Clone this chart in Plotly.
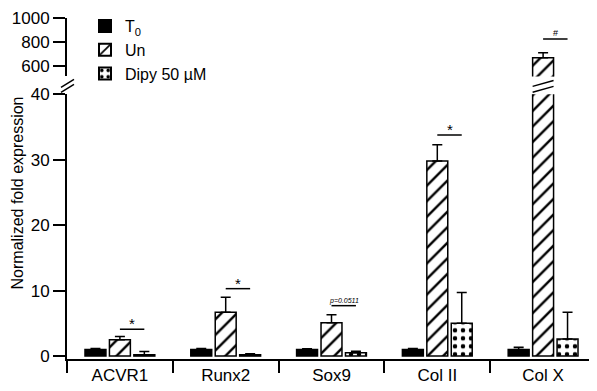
import plotly.graph_objects as go

# ---- data ----
genes = ["ACVR1", "Runx2", "Sox9", "Col II", "Col X"]
t0_mean = [1.0, 1.0, 1.0, 1.0, 1.0]
t0_err = [0.15, 0.15, 0.12, 0.15, 0.35]
un_mean = [2.5, 6.7, 5.1, 29.8, 667]
un_err = [0.5, 2.3, 1.2, 2.5, 41]
dipy_mean = [0.2, 0.2, 0.5, 5.0, 2.6]
dipy_err = [0.5, 0.15, 0.25, 4.7, 4.1]
sig_labels = ["*", "*", "<i>p=0.0511</i>", "*", "#"]
sig_y = [4.1, 10.3, 7.7, 33.8, 825]

low_ticks = [0, 10, 20, 30, 40]
up_ticks = [600, 800, 1000]

FONT = "Arial, Liberation Sans, Helvetica, sans-serif"
BARGAP = 0.307
GROUPGAP = 0.143
slot = (1 - BARGAP) / 3
barw = slot * (1 - GROUPGAP)

# page geometry (page has an 8px body margin)
OFF = 8
W, H = 589, 383
L, R = 67 - OFF, 1
T = 15 - OFF
B = H - (359 - OFF)
plot_h = H - T - B
plot_w = W - L - R
def py(pix):
    return (H - B - (pix - OFF)) / plot_h
def px(pix):
    return (pix - OFF - L) / plot_w

low_top = py(92)
up_bot = py(74)

fig = go.Figure()

series = [
    ("T<sub>0</sub>", t0_mean, t0_err, dict(color="black")),
    ("Un", un_mean, un_err, dict(color="white", pattern=dict(shape="/", fgcolor="black", bgcolor="white", size=11, solidity=0.22, fillmode="replace"))),
    ("Dipy 50 µM", dipy_mean, dipy_err, dict(color="white", pattern=dict(shape=".", fgcolor="black", bgcolor="white", size=8, solidity=0.25, fillmode="replace"))),
]

for yax in ["y", "y2"]:
    for name, m, e, mk in series:
        fig.add_trace(go.Bar(
            x=genes, y=m, name=name, yaxis=yax,
            showlegend=(yax == "y"), legendgroup=name,
            marker=dict(**mk, line=dict(color="black", width=1.5)),
            error_y=dict(type="data", symmetric=False, array=e,
                         arrayminus=[0] * len(e), color="black",
                         thickness=1.5, width=5),
        ))

shapes = []
annotations = []
for i, (lab, yv) in enumerate(zip(sig_labels, sig_y)):
    yref = "y2" if i == 4 else "y"
    shapes.append(dict(type="line", xref="x", yref=yref, x0=i, x1=i + slot,
                       y0=yv, y1=yv, line=dict(color="black", width=1.5)))
    small = i in (2, 4)
    annotations.append(dict(
        x=i + slot / 2, y=yv, xref="x", yref=yref, text=lab, showarrow=False,
        yanchor="bottom", yshift=(-1 if small else -5),
        font=dict(family=FONT, size=(7 if i == 2 else (9 if i == 4 else 15)), color="black")))

# y-axis break marks
for dy in (0, 5):
    shapes.append(dict(type="line", xref="paper", yref="paper",
                       x0=px(61), x1=px(74), y0=py(85 + dy), y1=py(77 + dy),
                       line=dict(color="black", width=1.5)))
# bar break marks on Col X Un
for dy in (0, 6):
    shapes.append(dict(type="line", xref="x", yref="paper",
                       x0=4 - barw / 2, x1=4 + barw / 2, y0=py(84 + dy), y1=py(78 + dy),
                       line=dict(color="black", width=1.5)))

annotations.append(dict(
    x=px(17), y=py(192), xref="paper", yref="paper", text="Normalized fold expression",
    textangle=-90, showarrow=False, xanchor="center", yanchor="middle",
    font=dict(family=FONT, size=16, color="black")))

axis_common = dict(showline=True, linecolor="black", linewidth=2, ticks="outside",
                   ticklen=12, tickwidth=2, tickcolor="black", showgrid=False,
                   zeroline=False, tickfont=dict(family=FONT, size=17, color="black"))

fig.update_layout(
    width=W, height=H,
    margin=dict(l=L, r=R, t=T, b=B),
    paper_bgcolor="white", plot_bgcolor="white",
    barmode="group", bargap=BARGAP, bargroupgap=GROUPGAP,
    font=dict(family=FONT, size=16, color="black"),
    xaxis=dict(type="category", range=[-0.5, 4.5], tickson="boundaries",
               **axis_common),
    yaxis=dict(domain=[0, low_top], range=[-0.45, 40], tickvals=low_ticks, **axis_common),
    yaxis2=dict(domain=[up_bot, 1], range=[510, 1000], tickvals=up_ticks,
                anchor="x", **axis_common),
    legend=dict(x=px(85), y=py(6), xanchor="left", yanchor="top",
                bgcolor="rgba(0,0,0,0)", font=dict(family=FONT, size=16, color="black"),
                tracegroupgap=0, itemsizing="constant"),
    shapes=shapes, annotations=annotations,
)

fig.write_html("out.html")
